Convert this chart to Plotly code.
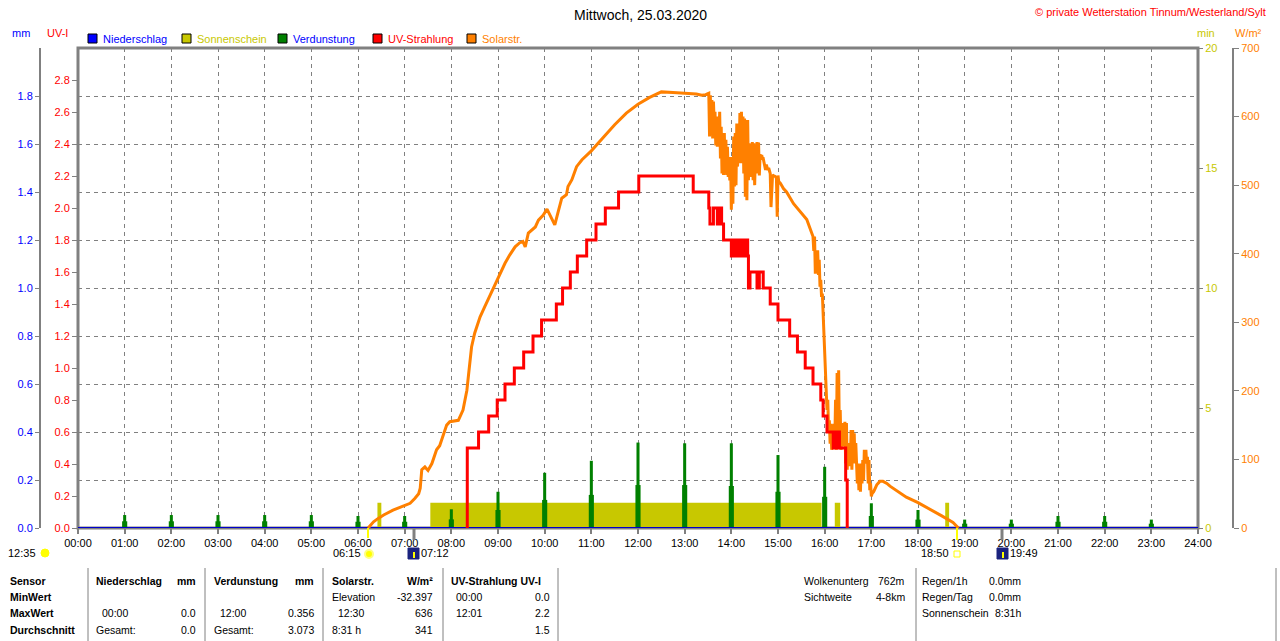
import plotly.graph_objects as go

# Tagesgrafik 25.03.2020
hour_labels = ["%02d:00" % h for h in range(25)]

# Solarstrahlung W/m2
solar_time = ["06:13", "06:16", "06:20", "06:26", "06:33", "06:45", "06:58", "07:07", "07:13", "07:18",
              "07:20", "07:22", "07:26", "07:30", "07:35", "07:41", "07:45", "07:48", "07:54", "07:58",
              "08:09", "08:15", "08:18", "08:20", "08:22", "08:26", "08:30", "08:37", "08:43", "08:50",
              "08:56", "09:03", "09:09", "09:15", "09:22", "09:28", "09:32", "09:35", "09:39", "09:48",
              "09:52", "09:58", "10:03", "10:07", "10:13", "10:18", "10:22", "10:28", "10:30", "10:35",
              "10:41", "10:48", "11:00", "11:15", "11:30", "11:45", "12:00", "12:15", "12:30", "12:45",
              "13:00", "13:15", "13:22", "13:27", "13:31",
              "13:32", "13:33", "13:34", "13:35", "13:36", "13:37", "13:38", "13:39", "13:40", "13:41",
              "13:42", "13:43", "13:44", "13:45", "13:46", "13:47", "13:48", "13:49", "13:50", "13:51",
              "13:52", "13:53", "13:54", "13:55", "13:56", "13:57", "13:58", "13:59", "14:00", "14:01",
              "14:02", "14:03", "14:04", "14:05", "14:06", "14:07", "14:08", "14:09", "14:10", "14:11",
              "14:12", "14:13", "14:14", "14:15", "14:16", "14:17", "14:18", "14:19", "14:20", "14:21",
              "14:22", "14:23", "14:24", "14:25", "14:26", "14:27", "14:28", "14:29", "14:30", "14:31",
              "14:32", "14:33", "14:34", "14:35", "14:36", "14:37", "14:38", "14:39", "14:40", "14:41",
              "14:42", "14:43", "14:44", "14:45", "14:46", "14:47", "14:48", "14:49", "14:50", "14:51",
              "14:52", "14:53", "14:54", "14:55", "14:56", "14:57", "14:58", "14:59", "15:00", "15:01",
              "15:03", "15:07", "15:11", "15:20", "15:28", "15:37", "15:45",
              "15:46", "15:47", "15:48", "15:49", "15:50", "15:51", "15:52", "15:53", "15:54", "15:55",
              "15:56", "15:57", "15:58", "15:59", "16:00", "16:01", "16:02", "16:03", "16:04", "16:05",
              "16:06", "16:07", "16:08", "16:09", "16:10", "16:11", "16:12", "16:13", "16:14", "16:15",
              "16:16", "16:17", "16:18", "16:19", "16:20", "16:21", "16:22", "16:23", "16:24", "16:25",
              "16:26", "16:27", "16:28", "16:29", "16:30", "16:31", "16:32", "16:33", "16:34", "16:35",
              "16:36", "16:37", "16:38", "16:39", "16:40", "16:41", "16:42", "16:43", "16:44", "16:45",
              "16:46", "16:47", "16:48", "16:49", "16:50", "16:51", "16:52", "16:53", "16:54", "16:55",
              "16:56", "16:57", "16:58", "16:59", "17:00", "17:01", "17:03", "17:07", "17:11", "17:15",
              "17:20", "17:24", "17:28", "17:37", "17:45", "18:00", "18:15", "18:30", "18:45", "18:52"]
solar_wm2 = [0, 4, 9, 14, 19, 26, 32, 36, 43, 50,
             58, 85, 89, 84, 94, 114, 120, 131, 150, 155,
             157, 172, 187, 201, 222, 264, 284, 308, 323, 340,
             354, 369, 386, 398, 410, 416, 418, 410, 430, 439,
             449, 456, 465, 456, 442, 464, 481, 486, 498, 508,
             527, 537, 550, 569, 588, 605, 618, 628, 636, 635,
             634, 633, 631, 632, 634,
             571, 631, 575, 624, 568, 622, 590, 607, 558, 600,
             556, 597, 563, 607, 539, 585, 517, 570, 515, 576,
             517, 566, 515, 556, 512, 541, 507, 541, 464, 532,
             473, 571, 498, 576, 500, 590, 527, 585, 537, 605,
             532, 607, 539, 600, 517, 597, 483, 595, 478, 595,
             507, 561, 522, 560, 512, 563, 507, 561, 500, 546,
             517, 563, 522, 562, 514, 545, 541, 544, 539, 539,
             532, 527, 522, 530, 527, 522, 525, 520, 517, 468,
             510, 515, 514, 514, 513, 512, 510, 454, 514, 505,
             503, 495, 490, 473, 462, 450, 425,
             404, 425, 371, 405, 381, 405, 369, 391, 352, 362,
             337, 342, 313, 300, 250, 216, 201, 172, 187, 143,
             157, 123, 152, 114, 143, 118, 152, 124, 187, 114,
             226, 143, 230, 124, 172, 114, 143, 119, 153, 124,
             155, 94, 153, 85, 124, 90, 124, 94, 143, 85,
             143, 94, 138, 94, 124, 94, 65, 94, 55, 80,
             53, 94, 65, 99, 70, 114, 94, 114, 94, 104,
             65, 99, 55, 65, 46, 50, 53, 63, 68, 68,
             65, 61, 58, 51, 45, 37, 28, 18, 8, 0]

# UV-Index (Stufen)
uv_time = ["08:20.5", "08:20.5", "08:35", "08:48", "08:59", "09:09", "09:21", "09:33", "09:45", "09:56",
           "10:15", "10:23", "10:33", "10:42", "10:54", "11:06", "11:18", "11:35", "12:01", "13:11",
           "13:31", "13:32.5", "13:37", "13:42", "13:44", "13:47.5", "13:50", "14:00", "14:02", "14:03",
           "14:05", "14:06", "14:08", "14:09", "14:11", "14:12", "14:14", "14:15", "14:17", "14:18",
           "14:20", "14:21", "14:22", "14:24", "14:33", "14:36", "14:41", "14:50", "15:00", "15:15",
           "15:25", "15:35", "15:45", "15:55", "15:58", "16:03", "16:11", "16:12", "16:13", "16:14",
           "16:16", "16:17", "16:19", "16:27", "16:29"]
uv_index = [0.0, 0.5, 0.6, 0.7, 0.8, 0.9, 1.0, 1.1, 1.2, 1.3,
            1.4, 1.5, 1.6, 1.7, 1.8, 1.9, 2.0, 2.1, 2.2, 2.1,
            2.0, 1.9, 2.0, 1.9, 2.0, 1.9, 1.8, 1.7, 1.8, 1.7,
            1.8, 1.7, 1.8, 1.7, 1.8, 1.7, 1.8, 1.7, 1.8, 1.7,
            1.8, 1.7, 1.5, 1.6, 1.5, 1.6, 1.5, 1.4, 1.3, 1.2,
            1.1, 1.0, 0.9, 0.8, 0.7, 0.6, 0.5, 0.6, 0.5, 0.6,
            0.5, 0.6, 0.5, 0.3, 0.0]

# Sonnenschein min
sun_time = ["06:00", "06:25", "06:30", "07:33", "15:56", "16:13", "16:20", "18:35", "18:40", "24:00"]
sun_min = [0, 1.05, 0, 1.05, 0, 1.05, 0, 1.05, 0, 0]

# Verdunstung mm (Stundenwert und Zwischenwert)
evap_hours = ["%02d:00" % h for h in range(1, 24)]
evap_mm = [0.054, 0.054, 0.054, 0.054, 0.054, 0.05, 0.05, 0.078, 0.151, 0.23, 0.28, 0.356,
           0.353, 0.353, 0.304, 0.255, 0.103, 0.075, 0.035, 0.035, 0.05, 0.05, 0.035]
evap_mm_half = [0.028, 0.028, 0.028, 0.028, 0.028, 0.026, 0.026, 0.036, 0.075, 0.117, 0.138, 0.179,
                0.179, 0.175, 0.151, 0.13, 0.05, 0.035, 0.018, 0.018, 0.026, 0.026, 0.018]

# Niederschlag mm
rain_time = ["00:00", "24:00"]
rain_mm = [0.0, 0.0]


def t2h(s):
    h, m = s.split(":")
    return int(h) + float(m) / 60


def px(x):
    return x / 1280


def py(y):
    return 1 - y / 641


GRAY = "#808080"
FONT = "Liberation Sans"
OLIVE = "#C8C800"
ORANGE = "#FF8000"

fig = go.Figure()

fig.add_trace(go.Scatter(x=[t2h(t) for t in sun_time], y=sun_min, mode="lines", line=dict(width=0, shape="hv"),
                         fill="tozeroy", fillcolor=OLIVE, yaxis="y"))
fig.add_trace(go.Bar(x=[t2h(t) for t in evap_hours], y=evap_mm_half, width=0.11, marker_color="#008000",
                     marker_line_width=0, yaxis="y2"))
fig.add_trace(go.Bar(x=[t2h(t) for t in evap_hours], y=evap_mm, width=0.065, marker_color="#008000",
                     marker_line_width=0, yaxis="y2"))
fig.add_trace(go.Scatter(x=[t2h(t) for t in rain_time], y=rain_mm, mode="lines",
                         line=dict(color="#0000CC", width=2), yaxis="y2"))
fig.add_trace(go.Scatter(x=[t2h(t) for t in solar_time], y=solar_wm2, mode="lines",
                         line=dict(color=ORANGE, width=3), yaxis="y3"))
fig.add_trace(go.Scatter(x=[t2h(t) for t in uv_time], y=uv_index, mode="lines",
                         line=dict(color="#FF0000", width=3, shape="hv"), yaxis="y4"))

dom = [py(528), py(48)]

fig.update_layout(
    width=1280, height=641,
    margin=dict(l=0, r=0, t=0, b=0, pad=0, autoexpand=False),
    paper_bgcolor="white", plot_bgcolor="white",
    showlegend=False, barmode="overlay",
    font=dict(family=FONT, size=11, color="black"),
    xaxis=dict(domain=[px(78), px(1198)], range=[0, 24], tickvals=list(range(25)), ticktext=hour_labels,
               showgrid=True, gridcolor=GRAY, griddash="4px,4px", gridwidth=1, zeroline=False, automargin=False,
               ticks="outside", ticklen=5, tickwidth=2, tickcolor=GRAY,
               tickfont=dict(family=FONT, size=11, color="black")),
    yaxis=dict(domain=dom, range=[0, 20], side="right", anchor="x", tickvals=[0, 5, 10, 15, 20],
               tickfont=dict(family=FONT, size=11, color=OLIVE), ticks="outside", ticklen=4, tickcolor=GRAY,
               showgrid=False, zeroline=False, showline=False, automargin=False),
    yaxis2=dict(overlaying="y", anchor="free", position=px(40), side="left", range=[0, 2],
                tickvals=[i / 5 for i in range(10)], tickformat=".1f",
                tickfont=dict(family=FONT, size=11, color="#0000FF"), automargin=False,
                ticks="outside", ticklen=4, tickcolor=GRAY, showline=True, linecolor=GRAY, linewidth=2,
                showgrid=True, gridcolor=GRAY, griddash="4px,4px", gridwidth=1, zeroline=False),
    yaxis3=dict(overlaying="y", anchor="free", position=px(1233), side="right", range=[0, 700],
                tickvals=list(range(0, 701, 100)), tickfont=dict(family=FONT, size=11, color=ORANGE),
                ticks="outside", ticklen=5, tickcolor=GRAY, showline=True, linecolor=GRAY, linewidth=2,
                showgrid=False, zeroline=False, automargin=False),
    yaxis4=dict(overlaying="y", anchor="x", side="left", range=[0, 3],
                tickvals=[i / 5 for i in range(15)], tickformat=".1f",
                tickfont=dict(family=FONT, size=11, color="#FF0000"), automargin=False,
                ticks="outside", ticklen=5, tickcolor=GRAY, showgrid=False, zeroline=False, showline=False),
)

shapes = []
# Rahmen
shapes.append(dict(type="rect", xref="paper", yref="paper", x0=px(78), x1=px(1198), y0=py(528), y1=py(48),
                   line=dict(color=GRAY, width=3), layer="below"))

# Legende
legend = [("Niederschlag", "#0000FF", "#0000FF", 88), ("Sonnenschein", OLIVE, OLIVE, 182),
          ("Verdunstung", "#008000", "#0000FF", 278), ("UV-Strahlung", "#FF0000", "#FF0000", 373),
          ("Solarstr.", ORANGE, ORANGE, 467)]
ann = []
for name, sq, tc, x in legend:
    shapes.append(dict(type="rect", xref="paper", yref="paper", x0=px(x), x1=px(x + 9), y0=py(43), y1=py(34),
                       fillcolor=sq, line=dict(color="black", width=1)))
    ann.append(dict(text=name, x=px(x + 13), y=py(38.5), xanchor="left", yanchor="middle",
                    font=dict(color=tc, size=11)))

ann.append(dict(text="Mittwoch, 25.03.2020", x=px(640), y=py(15), xanchor="center", yanchor="middle",
                font=dict(size=14, color="black")))
ann.append(dict(text="© private Wetterstation Tinnum/Westerland/Sylt", x=px(1268), y=py(12), xanchor="right",
                yanchor="middle", font=dict(size=11, color="#FF0000")))
ann.append(dict(text="mm", x=px(21), y=py(33), xanchor="center", yanchor="middle", font=dict(color="#0000FF")))
ann.append(dict(text="UV-I", x=px(57), y=py(33), xanchor="center", yanchor="middle", font=dict(color="#FF0000")))
ann.append(dict(text="min", x=px(1206), y=py(33), xanchor="center", yanchor="middle", font=dict(color=OLIVE)))
ann.append(dict(text="W/m²", x=px(1248), y=py(33), xanchor="center", yanchor="middle", font=dict(color=ORANGE)))

# Sonne / Mond
shapes.append(dict(type="line", xref="paper", yref="paper", x0=px(368), x1=px(368), y0=py(528), y1=py(538),
                   line=dict(color="#FFFF00", width=2)))
shapes.append(dict(type="line", xref="paper", yref="paper", x0=px(957), x1=px(957), y0=py(528), y1=py(540),
                   line=dict(color="#FFFF00", width=2)))
for xm in (414, 1002):
    shapes.append(dict(type="line", xref="paper", yref="paper", x0=px(xm), x1=px(xm), y0=py(528), y1=py(540),
                       line=dict(color=GRAY, width=3)))
shapes.append(dict(type="circle", xref="paper", yref="paper", x0=px(41), x1=px(49), y0=py(557), y1=py(549),
                   fillcolor="#FFFF00", line=dict(color="#FFFF00", width=1)))
shapes.append(dict(type="circle", xref="paper", yref="paper", x0=px(365), x1=px(373), y0=py(558), y1=py(550),
                   fillcolor="#FFFF00", line=dict(color="#FFFF80", width=2)))
shapes.append(dict(type="rect", xref="paper", yref="paper", x0=px(954), x1=px(960), y0=py(557), y1=py(551),
                   fillcolor="white", line=dict(color="#FFFF00", width=1)))
for xm in (408, 997):
    shapes.append(dict(type="rect", xref="paper", yref="paper", x0=px(xm), x1=px(xm + 11), y0=py(559), y1=py(548),
                       fillcolor="#1A237E", line=dict(color="#1A237E", width=1)))
    shapes.append(dict(type="line", xref="paper", yref="paper", x0=px(xm + 6), x1=px(xm + 6), y0=py(558), y1=py(552),
                       line=dict(color="#FFFF00", width=2)))
ann.append(dict(text="12:35", x=px(38), y=py(553), xanchor="right", yanchor="middle"))
ann.append(dict(text="06:15", x=px(363), y=py(553), xanchor="right", yanchor="middle"))
ann.append(dict(text="07:12", x=px(419), y=py(553), xanchor="left", yanchor="middle"))
ann.append(dict(text="18:50", x=px(951), y=py(553), xanchor="right", yanchor="middle"))
ann.append(dict(text="19:49", x=px(1008), y=py(553), xanchor="left", yanchor="middle"))

# Tabelle unten
for xs in (88, 205, 323, 443, 558, 916, 1276):
    shapes.append(dict(type="line", xref="paper", yref="paper", x0=px(xs), x1=px(xs), y0=py(568), y1=py(641),
                       line=dict(color=GRAY, width=1)))

rows = [581, 597, 613, 630]
cells = [
    ("<b>Sensor</b>", 8, 0, "left"), ("<b>MinWert</b>", 8, 1, "left"), ("<b>MaxWert</b>", 8, 2, "left"),
    ("<b>Durchschnitt</b>", 8, 3, "left"),
    ("<b>Niederschlag</b>", 94, 0, "left"), ("<b>mm</b>", 198, 0, "right"),
    ("00:00", 100, 2, "left"), ("0.0", 198, 2, "right"), ("Gesamt:", 94, 3, "left"), ("0.0", 198, 3, "right"),
    ("<b>Verdunstung</b>", 212, 0, "left"), ("<b>mm</b>", 316, 0, "right"),
    ("12:00", 218, 2, "left"), ("0.356", 316, 2, "right"), ("Gesamt:", 212, 3, "left"), ("3.073", 316, 3, "right"),
    ("<b>Solarstr.</b>", 330, 0, "left"), ("<b>W/m²</b>", 435, 0, "right"),
    ("Elevation", 330, 1, "left"), ("-32.397", 435, 1, "right"), ("12:30", 336, 2, "left"),
    ("636", 435, 2, "right"), ("8:31 h", 330, 3, "left"), ("341", 435, 3, "right"),
    ("<b>UV-Strahlung UV-I</b>", 449, 0, "left"),
    ("00:00", 454, 1, "left"), ("0.0", 552, 1, "right"), ("12:01", 454, 2, "left"), ("2.2", 552, 2, "right"),
    ("1.5", 552, 3, "right"),
    ("Wolkenunterg", 802, 0, "left"), ("762m", 907, 0, "right"), ("Sichtweite", 802, 1, "left"),
    ("4-8km", 907, 1, "right"),
    ("Regen/1h", 920, 0, "left"), ("0.0mm", 1023, 0, "right"), ("Regen/Tag", 920, 1, "left"),
    ("0.0mm", 1023, 1, "right"), ("Sonnenschein", 920, 2, "left"), ("8:31h", 1023, 2, "right"),
]
for txt, x, r, anchor in cells:
    ann.append(dict(text=txt, x=px(x), y=py(rows[r]), xanchor=anchor, yanchor="middle",
                    font=dict(size=10.5, color="black")))

for a in ann:
    a.update(xref="paper", yref="paper", showarrow=False)

fig.update_layout(shapes=shapes, annotations=ann)

# Seitenrand entfernen, damit die Grafik bei 0,0 beginnt
fig.write_html("out.html", config={"displayModeBar": False},
               post_script="document.body.style.margin='0px';document.body.style.overflow='hidden';")
